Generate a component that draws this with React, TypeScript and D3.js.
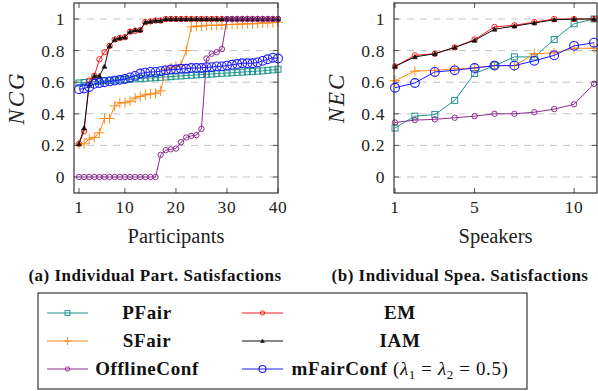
import React from "react";
import * as d3 from "d3";

// ---- data ----
const pFairP = [0.595, 0.598, 0.601, 0.604, 0.607, 0.609, 0.611, 0.613, 0.615, 0.617, 0.619, 0.621, 0.623, 0.625, 0.627, 0.629, 0.631, 0.633, 0.635, 0.638, 0.64, 0.642, 0.644, 0.646, 0.648, 0.65, 0.652, 0.654, 0.656, 0.658, 0.66, 0.662, 0.664, 0.666, 0.668, 0.67, 0.672, 0.675, 0.678, 0.682];
const emP = [0.21, 0.29, 0.61, 0.64, 0.745, 0.79, 0.83, 0.87, 0.88, 0.885, 0.92, 0.925, 0.93, 0.98, 0.985, 0.99, 0.99, 1, 1, 1, 1, 1, 1, 1, 1, 1, 1, 1, 1, 1, 1, 1, 1, 1, 1, 1, 1, 1, 1, 1];
const sFairP = [0.21, 0.21, 0.24, 0.25, 0.28, 0.37, 0.37, 0.45, 0.47, 0.47, 0.48, 0.5, 0.51, 0.52, 0.525, 0.53, 0.545, 0.68, 0.69, 0.7, 0.71, 0.8, 0.95, 0.955, 0.955, 0.96, 0.96, 0.96, 0.962, 0.965, 0.965, 0.967, 0.968, 0.97, 0.97, 0.972, 0.975, 0.975, 0.978, 0.98];
const iamP = [0.21, 0.31, 0.58, 0.64, 0.64, 0.7, 0.83, 0.87, 0.88, 0.885, 0.92, 0.93, 0.93, 0.98, 0.985, 0.99, 0.99, 1, 1, 1, 1, 1, 1, 1, 1, 1, 1, 1, 1, 1, 1, 1, 1, 1, 1, 1, 1, 1, 1, 1];
const offlineP = [0, 0, 0, 0, 0, 0, 0, 0, 0, 0, 0, 0, 0, 0, 0, 0, 0.14, 0.17, 0.175, 0.18, 0.22, 0.25, 0.26, 0.265, 0.305, 0.75, 0.78, 0.79, 0.81, 1, 1, 1, 1, 1, 1, 1, 1, 1, 1, 1];
const mFairP = [0.555, 0.56, 0.57, 0.59, 0.595, 0.6, 0.605, 0.61, 0.615, 0.62, 0.63, 0.64, 0.655, 0.66, 0.665, 0.665, 0.67, 0.675, 0.68, 0.68, 0.685, 0.685, 0.69, 0.69, 0.69, 0.695, 0.695, 0.7, 0.7, 0.705, 0.71, 0.715, 0.72, 0.72, 0.72, 0.725, 0.735, 0.745, 0.755, 0.75];

const pFairS = [0.31, 0.385, 0.395, 0.485, 0.655, 0.705, 0.76, 0.76, 0.87, 0.97, 1.0];
const emS = [0.7, 0.77, 0.78, 0.82, 0.87, 0.95, 0.96, 0.98, 1.0, 1.0, 1.0];
const sFairS = [0.61, 0.67, 0.675, 0.685, 0.69, 0.705, 0.705, 0.78, 0.785, 0.815, 0.815];
const iamS = [0.7, 0.76, 0.78, 0.82, 0.865, 0.935, 0.955, 0.975, 0.995, 1.0, 1.0];
const offlineS = [0.345, 0.36, 0.365, 0.375, 0.385, 0.4, 0.4, 0.41, 0.43, 0.46, 0.59];
const mFairS = [0.565, 0.595, 0.665, 0.675, 0.69, 0.705, 0.705, 0.735, 0.77, 0.83, 0.85];

const yTicks = [0, 0.2, 0.4, 0.6, 0.8, 1];
const partTicks = [1, 10, 20, 30, 40];
const speaTicks = [1, 5, 10];

const seriesNames = ["PFair", "EM", "SFair", "IAM", "OfflineConf", "mFairConf"];
const seriesColors = ["#21958c", "#ff1a1a", "#ff8a1c", "#111111", "#8e2c93", "#1a1aff"];
const seriesMarks = ["square", "circle", "plus", "triangle", "circle", "bigcircle"];

const FONT = "'Liberation Serif', 'Times New Roman', serif";

type Panel = {
  x0: number; x1: number; y0: number; y1: number;
  xs: d3.ScaleLinear<number, number>;
  ticks: number[];
  series: number[][];
  ylab: string; xlab: string; caption: string; capX: number;
};

const yScale = d3.scaleLinear().domain([0, 1]).range([177, 19]);

function Marker({ kind, x, y, color, s = 1 }: { kind: string; x: number; y: number; color: string; s?: number }) {
  if (kind === "square")
    return <rect x={x - 3 * s} y={y - 3 * s} width={6 * s} height={6 * s} fill="none" stroke={color} strokeWidth={1} />;
  if (kind === "circle") return <circle cx={x} cy={y} r={2.7 * s} fill="none" stroke={color} strokeWidth={1} />;
  if (kind === "bigcircle") return <circle cx={x} cy={y} r={4.4 * s} fill="none" stroke={color} strokeWidth={1.1} />;
  if (kind === "plus")
    return (
      <path d={`M${x - 5 * s},${y}H${x + 5 * s}M${x},${y - 5 * s}V${y + 5 * s}`} stroke={color} strokeWidth={1} />
    );
  const t = 2.4 * s;
  return <path d={`M${x},${y - t}L${x + t},${y + t * 0.8}L${x - t},${y + t * 0.8}Z`} fill={color} stroke={color} strokeWidth={0.6} />;
}

function ChartPanel({ p }: { p: Panel }) {
  const line = d3
    .line<number>()
    .x((_, i) => p.xs(i + 1))
    .y((d) => yScale(d));
  const midY = (p.y0 + p.y1) / 2;
  const midX = (p.x0 + p.x1) / 2;
  return (
    <g>
      {/* grid */}
      {yTicks.map((t) => (
        <line key={"g" + t} x1={p.x0} x2={p.x1} y1={yScale(t)} y2={yScale(t)} stroke="#c4c4c4" strokeDasharray="7 6" />
      ))}
      {/* ticks */}
      {yTicks.map((t) => (
        <g key={"yt" + t} stroke="#555">
          <line x1={p.x0} x2={p.x0 + 5} y1={yScale(t)} y2={yScale(t)} />
          <line x1={p.x1 - 5} x2={p.x1} y1={yScale(t)} y2={yScale(t)} />
        </g>
      ))}
      {p.ticks.map((t) => (
        <g key={"xt" + t} stroke="#555">
          <line x1={p.xs(t)} x2={p.xs(t)} y1={p.y0} y2={p.y0 + 5} />
          <line x1={p.xs(t)} x2={p.xs(t)} y1={p.y1 - 5} y2={p.y1} />
        </g>
      ))}
      {/* series */}
      {p.series.map((vals, si) => (
        <g key={si}>
          <path d={line(vals) ?? ""} fill="none" stroke={seriesColors[si]} strokeWidth={1} />
          {vals.map((v, i) => (
            <Marker key={i} kind={seriesMarks[si]} x={p.xs(i + 1)} y={yScale(v)} color={seriesColors[si]} />
          ))}
        </g>
      ))}
      <rect x={p.x0} y={p.y0} width={p.x1 - p.x0} height={p.y1 - p.y0} fill="none" stroke="#222" strokeWidth={1.1} />
      {/* tick labels */}
      {yTicks.map((t) => (
        <text key={"yl" + t} x={p.x0 - 9} y={yScale(t) + 6} textAnchor="end" fontSize={17.5} letterSpacing={0.6} fontFamily={FONT} fill="#222">
          {d3.format("~g")(t)}
        </text>
      ))}
      {p.ticks.map((t) => (
        <text key={"xl" + t} x={p.xs(t)} y={213} textAnchor="middle" fontSize={17.5} letterSpacing={0.6} fontFamily={FONT} fill="#222">
          {t}
        </text>
      ))}
      <text x={midX} y={243} textAnchor="middle" fontSize={20.5} fontFamily={FONT} fill="#222">
        {p.xlab}
      </text>
      <text
        transform={`translate(${p.x0 - 50},${midY}) rotate(-90)`}
        textAnchor="middle"
        fontSize={23}
        fontStyle="italic"
        letterSpacing={2}
        fontFamily={FONT}
        fill="#222"
      >
        {p.ylab}
      </text>
      <text x={p.capX} y={281} textAnchor="middle" fontSize={17} fontWeight="bold" letterSpacing={0.5} fontFamily={FONT} fill="#111">
        {p.caption}
      </text>
    </g>
  );
}

export default function App() {
  const left: Panel = {
    x0: 74, x1: 278, y0: 3, y1: 193,
    xs: d3.scaleLinear().domain([1, 40]).range([79, 278]),
    ticks: partTicks,
    series: [pFairP, emP, sFairP, iamP, offlineP, mFairP],
    ylab: "NCG", xlab: "Participants",
    caption: "(a) Individual Part. Satisfactions", capX: 155,
  };
  const right: Panel = {
    x0: 394, x1: 597, y0: 3, y1: 193,
    xs: d3.scaleLinear().domain([1, 11]).range([395, 594]),
    ticks: speaTicks,
    series: [pFairS, emS, sFairS, iamS, offlineS, mFairS],
    ylab: "NEC", xlab: "Speakers",
    caption: "(b) Individual Spea. Satisfactions", capX: 460,
  };

  // legend: two columns, row-wise fill
  const legendRows = [313, 341, 369];
  const lineX = [47, 242];
  const textX = [147, 400];

  return (
    <svg width={598} height={391} style={{ position: "absolute", left: 0, top: 0 }}>
      <rect width={598} height={391} fill="#fff" />
      <ChartPanel p={left} />
      <ChartPanel p={right} />
      <rect x={38} y={293} width={489} height={96} fill="none" stroke="#111" strokeWidth={1} />
      {seriesNames.map((name, i) => {
        const col = i % 2;
        const row = Math.floor(i / 2);
        const y = legendRows[row];
        const lx = lineX[col];
        return (
          <g key={name}>
            <line x1={lx} x2={lx + 41} y1={y} y2={y} stroke={seriesColors[i]} strokeWidth={1} />
            <Marker kind={seriesMarks[i]} x={lx + 20.5} y={y} color={seriesColors[i]} s={0.8} />
            <text x={textX[col]} y={y + 6} textAnchor="middle" fontSize={19} fontFamily={FONT} fill="#111" letterSpacing={0.6}>
              <tspan fontWeight="bold">{name}</tspan>
              {name === "mFairConf" && (
                <>
                  <tspan> (</tspan>
                  <tspan fontStyle="italic">λ</tspan>
                  <tspan fontSize={13} dy={4}>1</tspan>
                  <tspan dy={-4}> = </tspan>
                  <tspan fontStyle="italic">λ</tspan>
                  <tspan fontSize={13} dy={4}>2</tspan>
                  <tspan dy={-4}> = 0.5)</tspan>
                </>
              )}
            </text>
          </g>
        );
      })}
    </svg>
  );
}
